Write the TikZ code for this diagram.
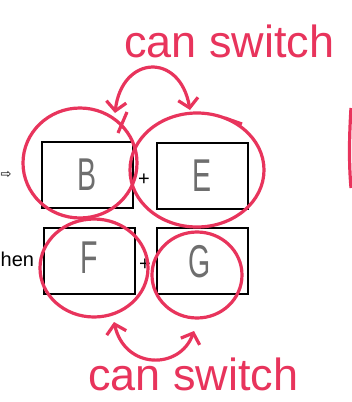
\documentclass[tikz,border=0pt]{standalone}
\usepackage{fontspec}
\setmainfont{Liberation Sans}
\newfontfamily\symfont{DejaVu Sans}
\usetikzlibrary{arrows.meta}
\definecolor{pen}{RGB}{232,52,92}
\definecolor{pencil}{RGB}{110,110,110}
\tikzset{
  box/.style={draw=black,line width=2pt,minimum width=91pt,minimum height=66pt,inner sep=0pt},
  letter/.style={text=pencil,font=\fontsize{46}{46}\selectfont,xscale=0.62},
  ring/.style={draw=pen,line width=3.2pt},
  swap/.style={draw=pen,line width=3.2pt,{Straight Barb[length=9pt,width=20pt,line width=3.2pt]}-{Straight Barb[length=9pt,width=20pt,line width=3.2pt]}},
  note/.style={text=pen,font=\fontsize{45}{45}\selectfont,inner sep=0pt},
  plus/.style={font=\fontsize{20}{20}\selectfont,inner sep=0pt},
}
\begin{document}
\begin{tikzpicture}[x=1pt,y=-1pt]
\useasboundingbox[fill=white] (0,0) rectangle (352,402);
% boxes
\node[box] (B) at (87.5,175) {};
\node[box] (E) at (202,176) {};
\node[box] (F) at (89,260.5) {};
\node[box] (G) at (202,261) {};
\node[letter] (lB) at (B.center) {B};
\node[letter] (lE) at (E.center) {E};
\node[letter] (lF) at (89,258) {F};
\node[letter] (lG) at (200,262) {G};
\node[plus] (p1) at (144,180) {+};
\node[plus] (p2) at (145,265) {+};
% left edge text
\node[anchor=west,inner sep=0pt,font=\symfont\fontsize{13}{13}\selectfont] (arr) at (0.5,175) {⇨};
\node[anchor=base west,inner sep=0pt,font=\fontsize{20}{20}\selectfont] (hen) at (0.5,266) {hen};
% red rings
\draw[ring] (80,163) ellipse [x radius=57,y radius=55];
\draw[ring] (197,170) ellipse [x radius=67,y radius=57];
\draw[ring] (94,268) ellipse [x radius=54,y radius=49];
\draw[ring] (197,275) ellipse [x radius=45,y radius=43];
\draw[ring] (118,133) -- (127,112);
\draw[ring] (225,118) -- (242,124);
% switch arrows
\coordinate (t1) at (115,113);
\coordinate (t2) at (190,110);
\coordinate (b1) at (114,322);
\coordinate (b2) at (194,331);
\draw[swap] (t1) .. controls (122,55) and (180,52) .. (t2);
\draw[swap] (b1) .. controls (125,370) and (180,370) .. (b2);
% labels
\node[note,anchor=base west] (top) at (124,57) {can switch};
\node[note,anchor=base west] (bot) at (88,390) {can switch};
% cut-off stroke on the right edge
\draw[ring] (351,108) .. controls (349,140) and (349,165) .. (351,188);
\end{tikzpicture}
\end{document}
